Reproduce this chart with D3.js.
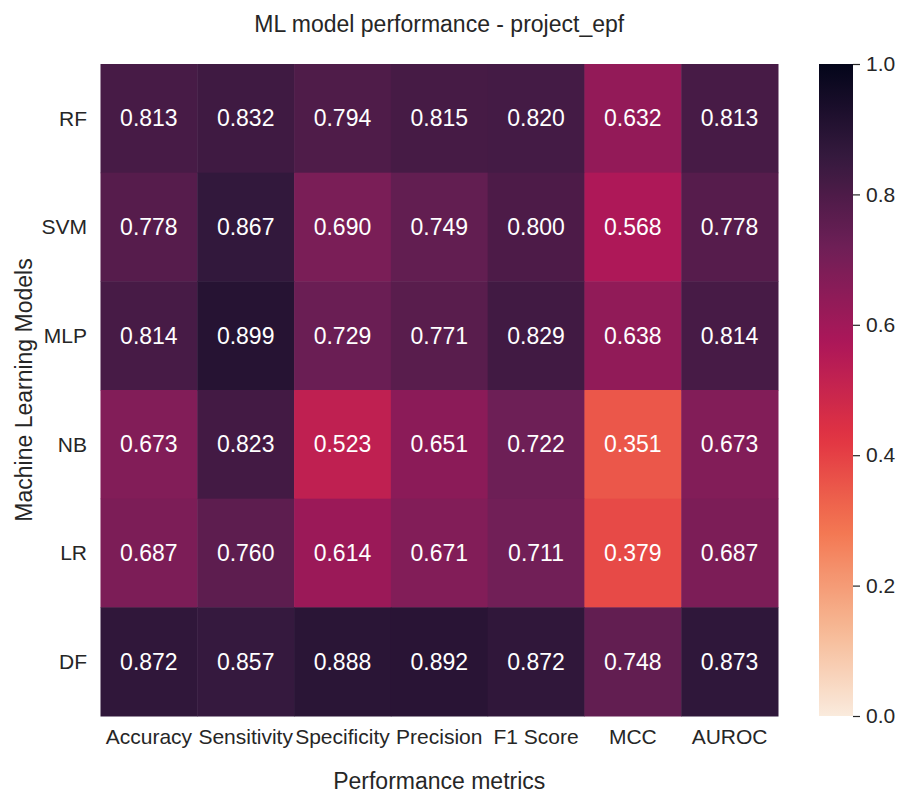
<!DOCTYPE html>
<html>
<head>
<meta charset="utf-8">
<script src="https://cdn.jsdelivr.net/npm/d3@7"></script>
<style>
  body { margin: 0; background: #fff; }
  text { font-family: "Liberation Sans", Arial, sans-serif; fill: #262626; }
</style>
</head>
<body>
<div id="chart"></div>
<script>
// data
const models = ["RF", "SVM", "MLP", "NB", "LR", "DF"];
const metrics = ["Accuracy", "Sensitivity", "Specificity", "Precision", "F1 Score", "MCC", "AUROC"];
const rfScores  = [0.813, 0.832, 0.794, 0.815, 0.820, 0.632, 0.813];
const svmScores = [0.778, 0.867, 0.690, 0.749, 0.800, 0.568, 0.778];
const mlpScores = [0.814, 0.899, 0.729, 0.771, 0.829, 0.638, 0.814];
const nbScores  = [0.673, 0.823, 0.523, 0.651, 0.722, 0.351, 0.673];
const lrScores  = [0.687, 0.760, 0.614, 0.671, 0.711, 0.379, 0.687];
const dfScores  = [0.872, 0.857, 0.888, 0.892, 0.872, 0.748, 0.873];
const colorbarTicks = [0, 0.2, 0.4, 0.6, 0.8, 1.0];

const scores = [rfScores, svmScores, mlpScores, nbScores, lrScores, dfScores];

// flatten into cells
const cells = [];
scores.forEach((row, i) => {
    row.forEach((v, j) => {
        cells.push({model: models[i], metric: metrics[j], value: v});
    });
});

const W = 898, H = 796;
const margin = {top: 64, left: 100.5, right: 120, bottom: 80};
const plotW = 677.5, plotH = 652;

const svg = d3.select("#chart")
    .append("svg")
    .attr("width", W)
    .attr("height", H);

// rocket colormap (seaborn), reversed below
const rocketStops = [0, 1/7, 2/7, 3/7, 4/7, 5/7, 6/7, 1];
const rocketCols = ["#03051a", "#35193e", "#701f57", "#ad1759", "#e13342", "#f37651", "#f6b48f", "#faebdd"];
const rocket = d3.scaleLinear().domain(rocketStops).range(rocketCols).interpolate(d3.interpolateRgb);
const color = v => rocket(1 - v); // rocket_r, vmin 0, vmax 1

const x = d3.scaleBand().domain(metrics).range([margin.left, margin.left + plotW]);
const y = d3.scaleBand().domain(models).range([margin.top, margin.top + plotH]);

// cells
svg.append("g")
    .selectAll("rect")
    .data(cells)
    .enter()
    .append("rect")
    .attr("x", d => x(d.metric))
    .attr("y", d => y(d.model))
    .attr("width", x.bandwidth() + 0.5)
    .attr("height", y.bandwidth() + 0.5)
    .attr("fill", d => color(d.value));

// annotations
svg.append("g")
    .selectAll("text")
    .data(cells)
    .enter()
    .append("text")
    .attr("x", d => x(d.metric) + x.bandwidth() / 2)
    .attr("y", d => y(d.model) + y.bandwidth() / 2)
    .attr("dy", "0.35em")
    .attr("text-anchor", "middle")
    .style("font-size", "23px")
    .style("fill", "#fff")
    .text(d => d.value.toFixed(3));

// x tick labels
svg.append("g")
    .selectAll("text")
    .data(metrics)
    .enter()
    .append("text")
    .attr("x", d => x(d) + x.bandwidth() / 2)
    .attr("y", 744)
    .attr("text-anchor", "middle")
    .style("font-size", "21px")
    .text(d => d);

// y tick labels
svg.append("g")
    .selectAll("text")
    .data(models)
    .enter()
    .append("text")
    .attr("x", 87)
    .attr("y", d => y(d) + y.bandwidth() / 2)
    .attr("dy", "0.35em")
    .attr("text-anchor", "end")
    .style("font-size", "21px")
    .text(d => d);

// title + axis labels
svg.append("text")
    .attr("x", margin.left + plotW / 2)
    .attr("y", 32)
    .attr("text-anchor", "middle")
    .style("font-size", "23px")
    .text("ML model performance - project_epf");

svg.append("text")
    .attr("x", margin.left + plotW / 2)
    .attr("y", 789)
    .attr("text-anchor", "middle")
    .style("font-size", "23px")
    .text("Performance metrics");

svg.append("text")
    .attr("transform", `translate(31.5, ${margin.top + plotH / 2}) rotate(-90)`)
    .attr("text-anchor", "middle")
    .style("font-size", "23px")
    .text("Machine Learning Models");

// colorbar
const cbX = 819, cbW = 34;
const cbScale = d3.scaleLinear().domain([0, 1]).range([margin.top + plotH, margin.top]);

const defs = svg.append("defs");
const grad = defs.append("linearGradient")
    .attr("id", "cbGrad")
    .attr("x1", "0%").attr("y1", "100%")
    .attr("x2", "0%").attr("y2", "0%");
d3.range(0, 1.0001, 0.02).forEach(t => {
    grad.append("stop")
        .attr("offset", (t * 100) + "%")
        .attr("stop-color", color(t));
});

svg.append("rect")
    .attr("x", cbX)
    .attr("y", margin.top)
    .attr("width", cbW)
    .attr("height", plotH)
    .attr("fill", "url(#cbGrad)");

const cbAxis = svg.append("g")
    .attr("transform", `translate(${cbX + cbW}, 0)`)
    .call(d3.axisRight(cbScale).tickValues(colorbarTicks).tickFormat(d3.format(".1f")).tickSize(7).tickPadding(6));

cbAxis.select(".domain").remove();
cbAxis.selectAll("line").attr("stroke", "#262626").attr("stroke-width", 1.2);
cbAxis.selectAll("text")
    .style("font-size", "21px")
    .style("font-family", "'Liberation Sans', Arial, sans-serif")
    .attr("fill", "#262626");
</script>
</body>
</html>
